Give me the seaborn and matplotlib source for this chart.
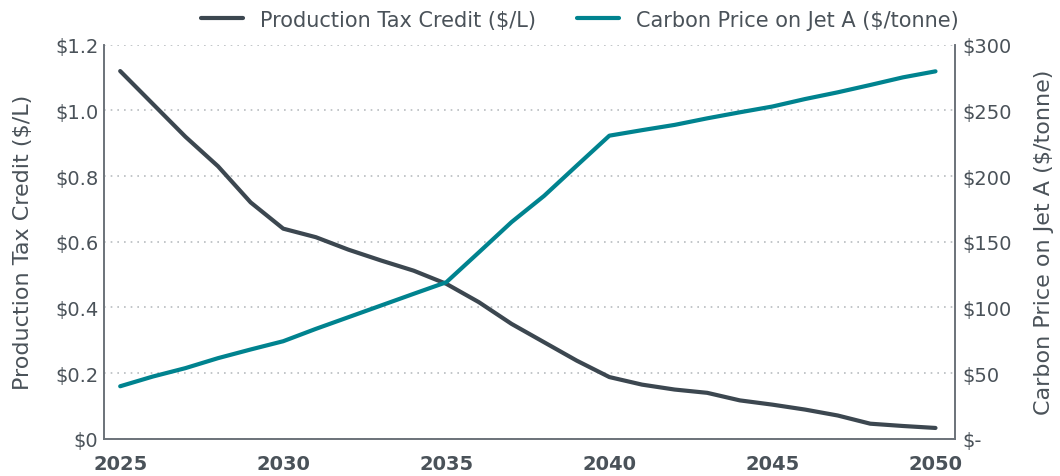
import pandas as pd
import seaborn as sns
import matplotlib.pyplot as plt
from matplotlib.ticker import FuncFormatter

# datos
anios = list(range(2025, 2051))
credito = [1.12, 1.02, 0.92, 0.83, 0.72, 0.64, 0.614, 0.576, 0.543, 0.512,
           0.472, 0.416, 0.35, 0.294, 0.238, 0.188, 0.165, 0.150, 0.140, 0.117,
           0.104, 0.089, 0.071, 0.046, 0.039, 0.033]
precio_carbono = [40, 47.4, 53.8, 61.4, 68, 74.3, 83.7, 92.6, 101.5, 110.4,
                  119.2, 142, 165, 185, 208, 230.8, 235, 239, 244, 248.6,
                  253, 258.7, 263.8, 269.4, 275.2, 279.8]
ticks_x = [2025, 2030, 2035, 2040, 2045, 2050]
ticks_izq = [0, 0.2, 0.4, 0.6, 0.8, 1.0, 1.2]
ticks_der = [0, 50, 100, 150, 200, 250, 300]

nombre_credito = 'Production Tax Credit ($/L)'
nombre_carbono = 'Carbon Price on Jet A ($/tonne)'

datos = pd.DataFrame({'anio': anios, 'credito': credito, 'carbono': precio_carbono})

sns.set_style('white')
plt.rcParams['font.family'] = ['DejaVu Sans']

gris = '#3c4750'
verde = '#00838f'
texto = '#4a5259'

fig = plt.figure(figsize=(10.6, 4.77), dpi=100)
ax = fig.add_axes([0.098, 0.078, 0.803, 0.826])
ax2 = ax.twinx()

sns.lineplot(data=datos, x='anio', y='credito', ax=ax, color=gris, linewidth=3, label=nombre_credito, legend=False)
sns.lineplot(data=datos, x='anio', y='carbono', ax=ax2, color=verde, linewidth=3, label=nombre_carbono, legend=False)

ax.set_xlim(2024.5, 2050.6)
ax.set_ylim(0, 1.2)
ax2.set_ylim(0, 300)
ax.set_xticks(ticks_x)
ax.set_yticks(ticks_izq)
ax2.set_yticks(ticks_der)
ax.set_xticklabels([str(t) for t in ticks_x], fontweight='bold', fontsize=14, color=texto)
ax.yaxis.set_major_formatter(FuncFormatter(lambda v, p: '$0' if v == 0 else f'${v:.1f}'))
ax2.yaxis.set_major_formatter(FuncFormatter(lambda v, p: '$-' if v == 0 else f'${v:.0f}'))
ax.tick_params(axis='y', labelsize=14, colors=texto, length=0, pad=4)
ax.tick_params(axis='x', length=0, pad=11)
ax2.tick_params(axis='y', labelsize=14, colors=texto, length=0, pad=5)

ax.grid(axis='y', linestyle=(0, (1, 3)), color='#b8bcc0', linewidth=1.2)
ax.set_xlabel('')
ax.set_ylabel(nombre_credito, fontsize=16, color=texto, labelpad=16)
ax2.set_ylabel(nombre_carbono, fontsize=16, color=texto, labelpad=16)

for a in (ax, ax2):
    a.spines['top'].set_visible(False)
    for lado in ('left', 'right', 'bottom'):
        a.spines[lado].set_color('#6b7279')
        a.spines[lado].set_linewidth(1.2)

lineas = ax.get_lines()[:1] + ax2.get_lines()[:1]
fig.legend(lineas, [nombre_credito, nombre_carbono], loc='center', bbox_to_anchor=(0.547, 0.957),
           ncol=2, frameon=False, fontsize=15, labelcolor=texto, handlelength=2.0, columnspacing=2.0)

plt.savefig('out.png', dpi=100)
